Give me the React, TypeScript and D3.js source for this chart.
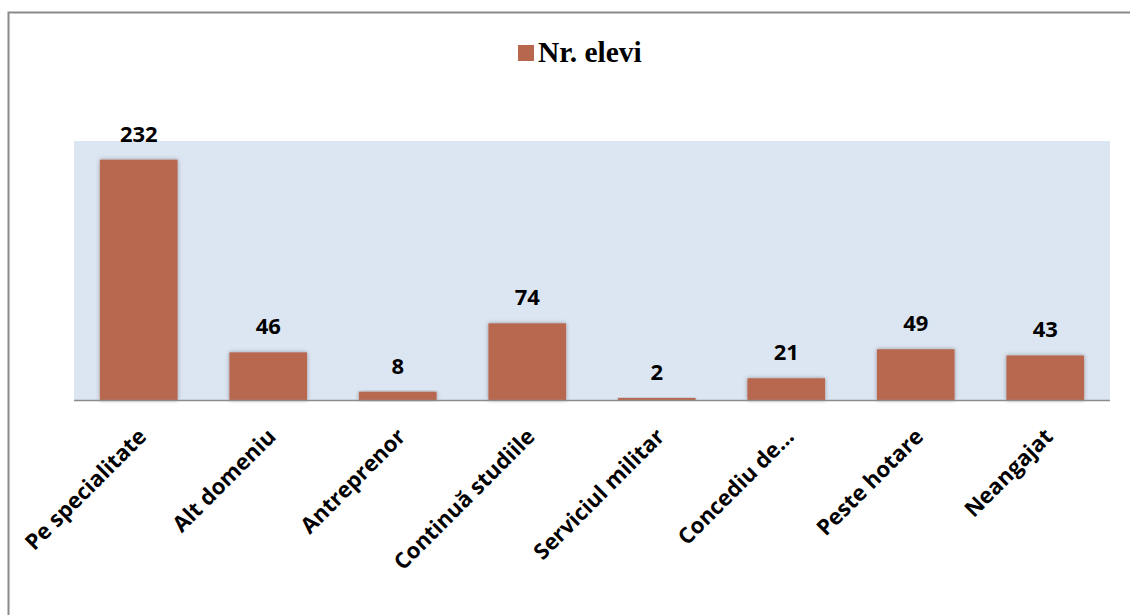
import React from "react";
import * as d3 from "d3";

const categories = [
  "Pe specialitate",
  "Alt domeniu",
  "Antreprenor",
  "Continuă studiile",
  "Serviciul militar",
  "Concediu de…",
  "Peste hotare",
  "Neangajat",
];
const values = [232, 46, 8, 74, 2, 21, 49, 43];
const seriesName = "Nr. elevi";
const yDomain = [0, 250];

const W = 1130;
const H = 615;
const plot = { left: 74, right: 1110, top: 141, bottom: 400 };
const barColor = "#b8674f";
const labelFont = "'Open Sans', Lato, sans-serif";
const valueFont = "'Open Sans', Lato, sans-serif";

export default function App() {
  const x = d3
    .scaleBand<string>()
    .domain(categories)
    .range([plot.left, plot.right])
    .paddingInner(0.4)
    .paddingOuter(0.2);
  const y = d3.scaleLinear().domain(yDomain).range([plot.bottom, plot.top]);

  return (
    <svg
      width={W}
      height={H}
      style={{ position: "absolute", left: 0, top: 0, background: "#fff" }}
    >
      <defs>
        <filter id="shadow" x="-20%" y="-20%" width="140%" height="140%">
          <feDropShadow dx="0" dy="0" stdDeviation="2" floodColor="#000" floodOpacity="0.35" />
        </filter>
      </defs>
      <rect x={8.5} y={12.5} width={W + 20} height={H + 20} fill="#fff" stroke="#8a8a8a" strokeWidth={2} />
      <rect
        x={plot.left}
        y={plot.top}
        width={plot.right - plot.left}
        height={plot.bottom - plot.top}
        fill="#dce6f2"
      />
      {categories.map((c, i) => (
        <rect
          key={c}
          x={x(c)!}
          y={y(values[i])}
          width={x.bandwidth()}
          height={y(0) - y(values[i])}
          fill={barColor}
          filter="url(#shadow)"
        />
      ))}
      <line
        x1={plot.left}
        x2={plot.right}
        y1={plot.bottom + 0.5}
        y2={plot.bottom + 0.5}
        stroke="#8c8c8c"
        strokeWidth={1.5}
      />
      {categories.map((c, i) => (
        <text
          key={"v" + c}
          x={x(c)! + x.bandwidth() / 2}
          y={y(values[i]) - 18}
          textAnchor="middle"
          fontFamily={valueFont}
          fontWeight="bold"
          fontSize={22}
          fill="#000"
        >
          {values[i]}
        </text>
      ))}
      {categories.map((c) => {
        const cx = x(c)! + x.bandwidth() / 2;
        return (
          <text
            key={"l" + c}
            transform={`translate(${cx + 9},${438}) rotate(-45)`}
            textAnchor="end"
            fontFamily={labelFont}
            fontWeight="bold"
            fontSize={22}
            fill="#000"
          >
            {c}
          </text>
        );
      })}
      <rect x={518} y={45} width={16} height={16} fill={barColor} />
      <text
        x={538}
        y={62}
        fontFamily="'Liberation Serif', 'Times New Roman', serif"
        fontWeight="bold"
        fontSize={29.5}
        fill="#000"
      >
        {seriesName}
      </text>
    </svg>
  );
}
